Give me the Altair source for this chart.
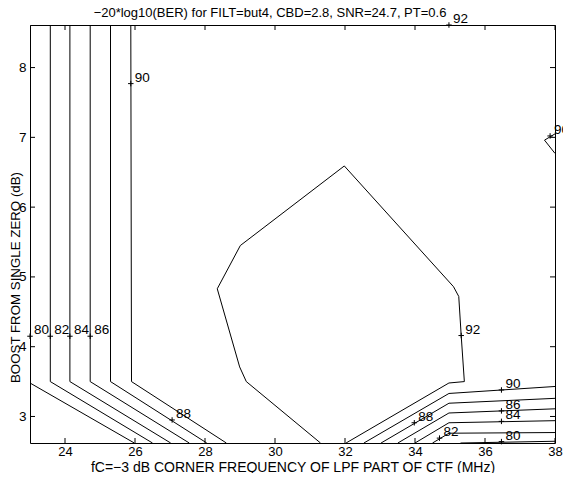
import altair as alt
import pandas as pd

FONT = "Liberation Sans"

title_text = "\u221220*log10(BER) for FILT=but4, CBD=2.8, SNR=24.7, PT=0.6"

# axis ticks / ranges
x_ticks = [24, 26, 28, 30, 32, 34, 36, 38]
y_ticks = [3, 4, 5, 6, 7, 8]
x_domain = [23, 38]
y_domain = [2.62, 8.61]

# contour polylines (data units)
contour_levels = [80, 82, 84, 86, 88, 90, 92, 90, 88, 86, 84, 82, 80, 90]
contour_xs = [
    [23.0, 23.0, 25.98],
    [23.58, 23.58, 26.50],
    [24.14, 24.14, 27.02],
    [24.72, 24.72, 27.55],
    [25.30, 25.30, 28.05],
    [25.88, 25.90, 28.61],
    [31.30, 29.18, 28.99, 28.35, 29.01, 31.98, 35.10, 35.25, 35.32, 35.41, 34.97, 32.03],
    [32.54, 34.97, 38.0],
    [33.03, 34.97, 38.0],
    [33.51, 34.97, 38.0],
    [34.00, 34.97, 38.0],
    [34.50, 34.97, 38.0],
    [35.30, 38.0],
    [38.0, 37.70, 38.0],
]
contour_ys = [
    [8.61, 3.48, 2.62],
    [8.61, 3.50, 2.62],
    [8.61, 3.50, 2.62],
    [8.61, 3.50, 2.62],
    [8.61, 3.50, 2.62],
    [8.61, 3.50, 2.62],
    [2.62, 3.50, 3.71, 4.83, 5.45, 6.59, 4.86, 4.72, 4.16, 3.50, 3.48, 2.62],
    [2.62, 3.33, 3.43],
    [2.62, 3.19, 3.26],
    [2.62, 3.05, 3.11],
    [2.62, 2.91, 2.94],
    [2.62, 2.76, 2.77],
    [2.62, 2.645],
    [7.05, 6.96, 6.77],
]

# contour labels (clabel crosses)
label_vals = [80, 82, 84, 86, 88, 90, 92, 92, 90, 86, 84, 80, 88, 82, 90]
label_x = [23.0, 23.58, 24.14, 24.72, 27.06, 25.88, 35.32, 34.97, 36.47, 36.47, 36.47, 36.47, 33.98, 34.70, 37.86]
label_y = [4.15, 4.15, 4.15, 4.15, 2.95, 7.77, 4.16, 8.61, 3.38, 3.08, 2.93, 2.64, 2.91, 2.69, 7.02]

rows = []
for i, (lvl, xs_, ys_) in enumerate(zip(contour_levels, contour_xs, contour_ys)):
    for j, (xv, yv) in enumerate(zip(xs_, ys_)):
        rows.append({"seg": i, "level": lvl, "ord": j, "x": xv, "y": yv})
lines_df = pd.DataFrame(rows)
labels_df = pd.DataFrame({"x": label_x, "y": label_y, "txt": [str(v) for v in label_vals]})
xt_df = pd.DataFrame({"x": x_ticks})
yt_df = pd.DataFrame({"y": y_ticks})
title_df = pd.DataFrame({"t": [title_text]})

W, H = 525, 418
xs = alt.Scale(domain=x_domain, nice=False, zero=False)
ys = alt.Scale(domain=y_domain, nice=False, zero=False)

x_axis = alt.Axis(values=x_ticks, format="d", ticks=False, tickSize=0, domain=False, grid=False,
                  labelFont=FONT, labelFontSize=13, labelColor="black", labelPadding=2,
                  labelFlush=False, labelOverlap=False,
                  title="fC=\u22123 dB CORNER FREQUENCY OF LPF PART OF CTF (MHz)",
                  titleFont=FONT, titleFontSize=14, titleFontWeight="normal", titleColor="black",
                  titleBaseline="alphabetic", titleY=28)
y_axis = alt.Axis(values=y_ticks, format="d", ticks=False, tickSize=0, domain=False, grid=False,
                  labelFont=FONT, labelFontSize=13.5, labelColor="black", labelPadding=4,
                  labelFlush=False, labelOverlap=False,
                  title="BOOST FROM SINGLE ZERO (dB)",
                  titleFont=FONT, titleFontSize=13.3, titleFontWeight="normal", titleColor="black",
                  titleBaseline="alphabetic", titleAngle=270, titleX=-11, titleY=252)

X = alt.X("x:Q", scale=xs, axis=x_axis)
Y = alt.Y("y:Q", scale=ys, axis=y_axis)

lines = alt.Chart(lines_df).mark_line(color="black", strokeWidth=1, clip=True).encode(
    x=X, y=Y, detail="seg:N", order="ord:Q",
)

crosses = alt.Chart(labels_df).mark_point(shape="M-1,0H1M0,-1V1", size=30, filled=False,
                                          color="black", strokeWidth=1, opacity=1).encode(x=X, y=Y)

texts = alt.Chart(labels_df).mark_text(align="left", baseline="alphabetic", dx=4, dy=-2,
                                       font=FONT, fontSize=13.5, color="black").encode(
    x=X, y=Y, text="txt:N",
)

tick_style = dict(color="black", strokeWidth=1)
bt = alt.Chart(xt_df).mark_rule(**tick_style).encode(x=X, y=alt.value(H), y2=alt.value(H - 5))
tt = alt.Chart(xt_df).mark_rule(**tick_style).encode(x=X, y=alt.value(0), y2=alt.value(5))
lt = alt.Chart(yt_df).mark_rule(**tick_style).encode(y=Y, x=alt.value(0), x2=alt.value(5))
rt = alt.Chart(yt_df).mark_rule(**tick_style).encode(y=Y, x=alt.value(W), x2=alt.value(W - 5))

title_mark = alt.Chart(title_df).mark_text(align="center", baseline="alphabetic", font=FONT,
                                           fontSize=13, color="black").encode(
    text="t:N", x=alt.value(240), y=alt.value(-8))

chart = alt.layer(lines, bt, tt, lt, rt, crosses, texts, title_mark).properties(
    width=W, height=H,
    autosize=alt.AutoSizeParams(type="none"),
    padding={"left": 22, "top": 17, "right": 8, "bottom": 30},
    background="white",
).configure_view(stroke="black", strokeWidth=1)

chart.save("out.html", embed_options={"renderer": "svg", "actions": False})
